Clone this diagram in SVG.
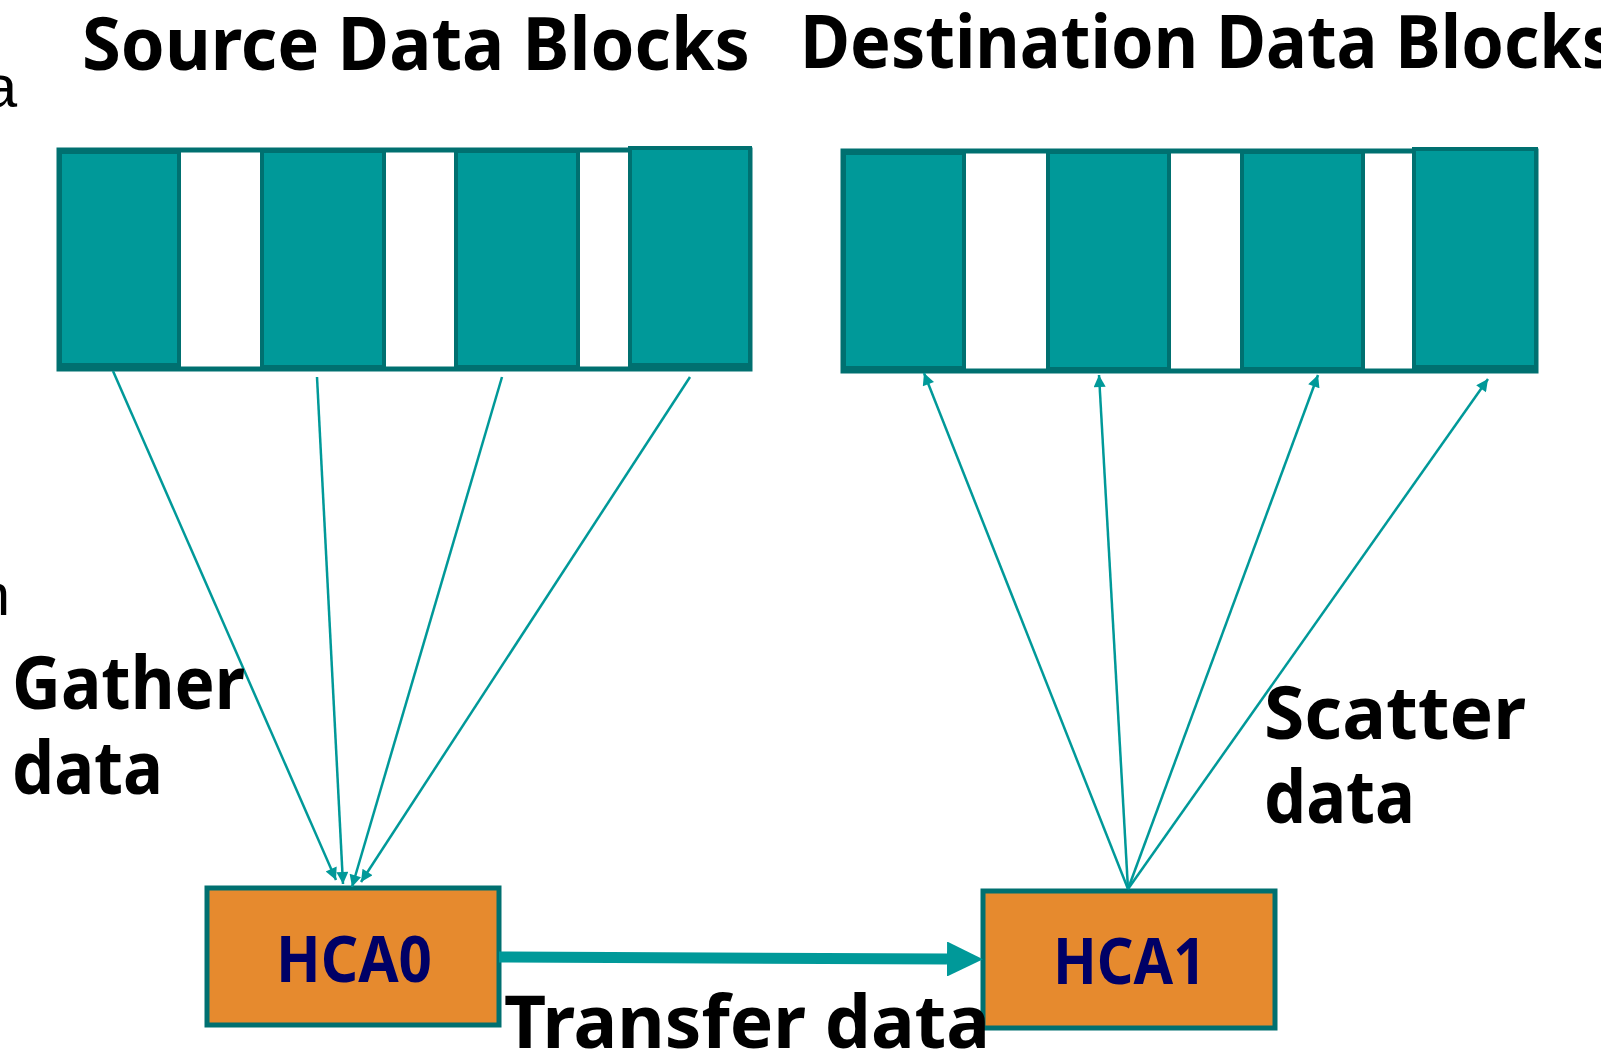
<svg xmlns="http://www.w3.org/2000/svg" width="1601" height="1056" viewBox="0 0 1601 1056">
<style>
.title{font-family:"Noto Sans","DejaVu Sans",sans-serif;font-weight:bold;font-size:74px;fill:#000}
.lbl{font-family:"Noto Sans","DejaVu Sans",sans-serif;font-weight:bold;font-size:74px;fill:#000}
.frag{font-family:"Liberation Sans",Arial,sans-serif;font-size:60px;fill:#000}
.outer{fill:#fff;stroke:#007070;stroke-width:5}
.blk{fill:#009999;stroke:#007070;stroke-width:4}
.hca{fill:#E68A2E;stroke:#007070;stroke-width:5}
.hcat{font-family:"Noto Sans","DejaVu Sans",sans-serif;font-weight:bold;font-size:64px;fill:#000066}
.thin{fill:none;stroke:#009999;stroke-width:2.5;marker-end:url(#ah)}
.thick{fill:none;stroke:#009999;stroke-width:11;marker-end:url(#ahb)}
</style>
<defs>
<marker id="ah" viewBox="0 0 10 10" refX="10" refY="5" markerWidth="15" markerHeight="12" markerUnits="userSpaceOnUse" orient="auto">
<path d="M0,0 L10,5 L0,10 z" fill="#009999"/>
</marker>
<marker id="ahb" viewBox="0 0 36 35" refX="0" refY="17.5" markerWidth="36" markerHeight="35" markerUnits="userSpaceOnUse" orient="auto">
<path d="M0,0 L36,17.5 L0,35 z" fill="#009999"/>
</marker>
</defs>
<rect width="1601" height="1056" fill="#fff"/>

<text class="frag" x="17" y="107" text-anchor="end">a</text>
<text class="frag" x="10" y="615" text-anchor="end">n</text>

<text class="title" x="82" y="70" textLength="668" lengthAdjust="spacingAndGlyphs">Source Data Blocks</text>
<text class="title" x="800" y="68" textLength="816" lengthAdjust="spacingAndGlyphs">Destination Data Blocks</text>

<g id="source-blocks">
<rect class="outer" x="59" y="150" width="691" height="219"/>
<rect class="blk" x="60" y="152" width="119" height="213"/>
<rect class="blk" x="262" y="151" width="122" height="216"/>
<rect class="blk" x="456" y="151" width="122" height="216"/>
<rect class="blk" x="630" y="148" width="120" height="217"/>
</g>

<g id="dest-blocks">
<rect class="outer" x="843" y="151" width="693" height="220"/>
<rect class="blk" x="844" y="153" width="120" height="215"/>
<rect class="blk" x="1048" y="152" width="121" height="217"/>
<rect class="blk" x="1242" y="152" width="121" height="217"/>
<rect class="blk" x="1414" y="149" width="122" height="218"/>
</g>

<g id="hca0">
<rect class="hca" x="207" y="888" width="292" height="137"/>
<text class="hcat" x="354" y="982" text-anchor="middle" textLength="156" lengthAdjust="spacingAndGlyphs">HCA0</text>
</g>

<g id="hca1">
<rect class="hca" x="983" y="891" width="292" height="137"/>
<text class="hcat" x="1129.5" y="984" text-anchor="middle" textLength="153" lengthAdjust="spacingAndGlyphs">HCA1</text>
</g>

<g id="connectors">
<line class="thin" x1="113" y1="371" x2="336" y2="880"/>
<line class="thin" x1="317" y1="377" x2="343" y2="884"/>
<line class="thin" x1="502" y1="377" x2="352" y2="887"/>
<line class="thin" x1="690" y1="377" x2="361" y2="882"/>
<line class="thin" x1="1128" y1="889" x2="924" y2="373"/>
<line class="thin" x1="1128" y1="889" x2="1099" y2="375"/>
<line class="thin" x1="1128" y1="889" x2="1318" y2="375"/>
<line class="thin" x1="1128" y1="889" x2="1488" y2="379"/>
<line class="thick" x1="499" y1="957" x2="947" y2="959"/>
</g>

<text class="lbl" x="12" y="709" textLength="233" lengthAdjust="spacingAndGlyphs">Gather</text>
<text class="lbl" x="12" y="794" textLength="151" lengthAdjust="spacingAndGlyphs">data</text>
<text class="lbl" x="1264" y="739" textLength="262" lengthAdjust="spacingAndGlyphs">Scatter</text>
<text class="lbl" x="1264" y="823" textLength="151" lengthAdjust="spacingAndGlyphs">data</text>
<text class="lbl" x="504" y="1048" textLength="486" lengthAdjust="spacingAndGlyphs">Transfer data</text>
</svg>
